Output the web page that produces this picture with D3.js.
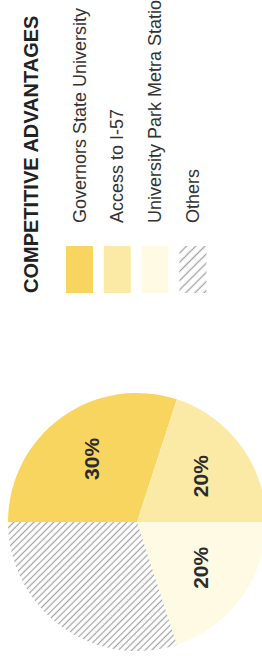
<!DOCTYPE html>
<html>
<head>
<meta charset="utf-8">
<script src="https://cdn.jsdelivr.net/npm/d3@7"></script>
<style>
  body { margin: 0; background: #fff; }
  svg { display: block; font-family: 'Liberation Sans', Arial, sans-serif; }
</style>
</head>
<body>
<svg></svg>
<script>
// chart data
let categories = ['Governors State University', 'Access to I-57', 'University Park Metra Station', 'Others']
let values = [30, 20, 20, 30]
let sliceLabels = ['30%', '20%', '20%', '']
let colors = ['#f7d55f', '#fbeaa6', '#fefae3', 'url(#hatch)']
let legendFills = ['#f7d55f', '#fbeaa6', '#fefae3', 'url(#hatchLegend)']
let title = 'COMPETITIVE ADVANTAGES'

// canvas (page is drawn sideways, like the scan)
let width = 262
let height = 658

let svg = d3.select('svg')
    .attr('width', width)
    .attr('height', height)

// everything is laid out in an unrotated frame then turned -90deg
let g = svg.append('g')
    .attr('transform', 'translate(0,' + height + ') rotate(-90)')

let defs = svg.append('defs')

let makeHatch = (id, gap, w) => {
    let p = defs.append('pattern')
        .attr('id', id)
        .attr('patternUnits', 'userSpaceOnUse')
        .attr('width', gap)
        .attr('height', gap)
        .attr('patternTransform', 'rotate(-45)')
    p.append('rect')
        .attr('width', gap)
        .attr('height', gap)
        .attr('fill', '#fff')
    p.append('line')
        .attr('x1', gap / 2).attr('y1', 0)
        .attr('x2', gap / 2).attr('y2', gap)
        .attr('stroke', '#a3a3a3')
        .attr('stroke-width', w)
}
makeHatch('hatch', 4.7, 1.2)
makeHatch('hatchLegend', 6.5, 1.3)

// pie
let radius = 129
let pie = d3.pie().sort(null).value(d => d)
let arc = d3.arc().innerRadius(0).outerRadius(radius)
let labelArc = d3.arc().innerRadius(78).outerRadius(78)

let pieG = g.append('g')
    .attr('transform', 'translate(136,137)')

let arcs = pie(values)

pieG.selectAll('path')
    .data(arcs)
    .enter()
    .append('path')
    .attr('d', arc)
    .attr('fill', (d, i) => colors[i])

pieG.selectAll('text')
    .data(arcs)
    .enter()
    .append('text')
    .attr('transform', d => 'translate(' + labelArc.centroid(d) + ')')
    .attr('text-anchor', 'middle')
    .attr('dy', '0.36em')
    .attr('font-size', 21)
    .attr('font-weight', 'bold')
    .attr('fill', '#2b2b2b')
    .text((d, i) => sliceLabels[i])

// title
g.append('text')
    .attr('x', 365)
    .attr('y', 38)
    .attr('font-size', 20)
    .attr('font-weight', 'bold')
    .attr('fill', '#222')
    .text(title)

// legend
let legendTop = 79.5
let rowGap = 37.8

let legend = g.selectAll('.legend')
    .data(categories)
    .enter()
    .append('g')
    .attr('class', 'legend')
    .attr('transform', (d, i) => 'translate(0,' + (legendTop + i * rowGap) + ')')

legend.append('rect')
    .attr('x', 365)
    .attr('y', -13.5)
    .attr('width', 47)
    .attr('height', 27)
    .attr('fill', (d, i) => legendFills[i])

legend.append('text')
    .attr('x', 435)
    .attr('y', 6)
    .attr('font-size', 18)
    .attr('fill', '#333')
    .text(d => d)
</script>
</body>
</html>
